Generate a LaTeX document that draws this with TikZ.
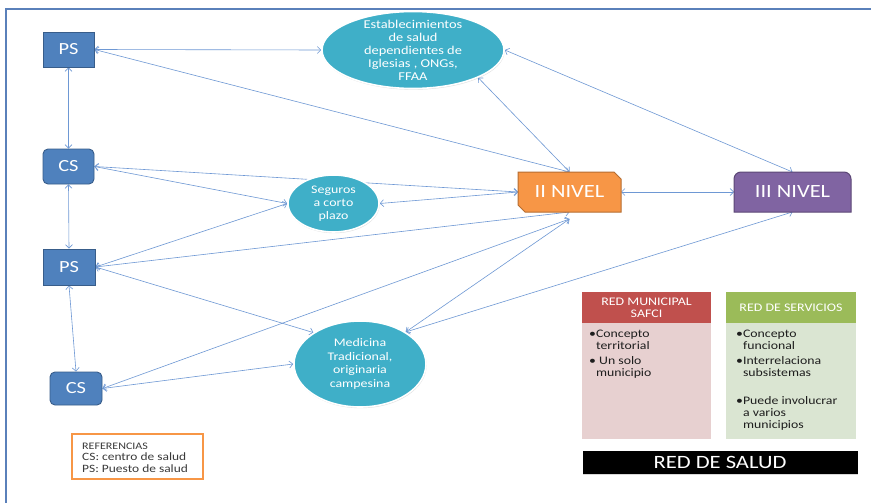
\documentclass[tikz,border=0pt]{standalone}
\usepackage{fontspec}
\setmainfont{Carlito}[FakeStretch=1.2]
\usetikzlibrary{arrows.meta,shapes.geometric,backgrounds,shadows}

\definecolor{boxblue}{HTML}{4F81BD}
\definecolor{boxblueline}{HTML}{385D8A}
\definecolor{ovalteal}{HTML}{3FAFC8}
\definecolor{lvltwo}{HTML}{F79646}
\definecolor{lvltwoline}{HTML}{B66D31}
\definecolor{lvlthree}{HTML}{8064A2}
\definecolor{lvlthreeline}{HTML}{5C4776}
\definecolor{safcihead}{HTML}{C0504D}
\definecolor{safcibody}{HTML}{E7D0D0}
\definecolor{servhead}{HTML}{9BBB59}
\definecolor{servbody}{HTML}{DAE5D2}
\definecolor{linkblue}{RGB}{110,152,212}
\definecolor{frameblue}{HTML}{5A80BA}
\definecolor{textdark}{HTML}{1E1E1E}
\definecolor{refgray}{HTML}{3A3A3A}

\begin{document}
\begin{tikzpicture}[x=1pt,y=-1pt,
  unit/.style={draw=boxblueline, line width=0.9pt, fill=boxblue, text=white,
    minimum width=51pt, minimum height=35pt, inner sep=0pt,
    font=\fontsize{17}{17}\selectfont},
  psbox/.style={unit},
  csbox/.style={unit, rounded corners=5pt},
  oval/.style={ellipse, draw=white, line width=1.6pt, fill=ovalteal, inner sep=0pt,
    drop shadow={opacity=0.25, shadow xshift=0.6pt, shadow yshift=-1.2pt}},
  ovaltext/.style={text=white, align=center, inner sep=0pt},
  lvlbox/.style={minimum width=103pt, minimum height=40pt, inner sep=0pt, outer sep=0pt,
    text=white, font=\fontsize{18.7}{18.7}\selectfont},
  link/.style={draw=linkblue, line width=0.6pt, <->,
    >={Straight Barb[length=3.5pt,width=7pt]}},
  headbox/.style={minimum width=129pt, minimum height=31pt, inner sep=0pt, text=white,
    align=center, font=\fontsize{11.6}{12}\selectfont},
  bodybox/.style={minimum width=129pt, minimum height=116pt, inner sep=0pt, anchor=north},
  bodytext/.style={anchor=north west, align=left, inner sep=0pt, text=textdark,
    font=\fontsize{11.5}{12.2}\selectfont},
]
\useasboundingbox (0,0) rectangle (871,503);

% first-level units
\node[psbox] (PS1) at (68.5,49.5) {PS};
\node[csbox] (CS1) at (68.5,166.5) {CS};
\node[psbox, minimum width=52pt, minimum height=36pt] (PS2) at (69,267) {PS};
\node[csbox, minimum width=52pt, minimum height=33pt] (CS2) at (76,388.5) {CS};

% other providers
\node[oval, minimum width=182pt, minimum height=77pt] (E) at (413,50) {};
\node[ovaltext, font=\fontsize{12}{13}\selectfont] (Etext) at (E)
  {Establecimientos\\de salud\\dependientes de\\Iglesias , ONGs,\\FFAA};
\node[oval, minimum width=91pt, minimum height=57pt] (S) at (333.5,203.5) {};
\node[ovaltext, font=\fontsize{11.6}{13}\selectfont] (Stext) at (S)
  {Seguros\\a corto\\plazo};
\node[oval, minimum width=132pt, minimum height=86pt] (M) at (360,364) {};
\node[ovaltext, font=\fontsize{11.6}{13.7}\selectfont] (Mtext) at (M)
  {Medicina\\Tradicional,\\originaria\\campesina};

% higher levels
\node[lvlbox] (II) at (569.5,192) {II NIVEL};
\node[lvlbox, minimum width=117pt] (III) at (792.5,192) {III NIVEL};
\coordinate (IIb) at ([yshift=-7pt]II.south);

% network tables
\node[headbox, fill=safcihead] (SafHead) at (646.5,307.5) {RED MUNICIPAL\\SAFCI};
\node[bodybox, fill=safcibody] (SafBody) at (SafHead.south) {};
\node[bodytext] (SafText) at (589,329.5)
  {•Concepto\\\phantom{•}territorial\\[3pt]• Un solo\\\phantom{•}municipio};
\node[headbox, minimum width=130pt, fill=servhead] (ServHead) at (791,307.5) {RED DE SERVICIOS};
\node[bodybox, minimum width=130pt, fill=servbody] (ServBody) at (ServHead.south) {};
\node[bodytext] (ServText) at (736,329.5)
  {•Concepto\\\phantom{•}funcional\\[2.5pt]•Interrelaciona\\\phantom{•}subsistemas\\[16pt]%
   •Puede involucrar\\\phantom{•}a varios\\\phantom{•}municipios};
\node[fill=black, minimum width=275pt, minimum height=23pt, inner sep=0pt, text=white,
  font=\fontsize{18.8}{18.8}\selectfont,
  drop shadow={opacity=0.3, shadow xshift=0.8pt, shadow yshift=-0.8pt}] (Salud)
  at (720,462.5) {RED DE SALUD};

% legend
\node[draw=lvltwo, line width=1.5pt, fill=white, minimum width=131pt, minimum height=45pt,
  inner sep=0pt] (RefBox) at (137.5,456.5) {};
\node[anchor=north west, align=left, inner sep=0pt, text=refgray,
  font=\fontsize{11.2}{11.6}\selectfont] (RefText) at (82,442.5)
  {{\fontsize{10}{11.6}\selectfont REFERENCIAS}\\CS: centro de salud\\PS: Puesto de salud};

\begin{scope}[on background layer]
  \fill[white] (0,0) rectangle (871,503);
  \draw[frameblue, line width=2pt] (5.5,503) -- (5.5,9.5) -- (871,9.5);

  % connections
  \draw[link] (PS1.east) -- (E.west);
  \draw[link] (PS1.south) -- (CS1.north);
  \draw[link] (CS1.south) -- (PS2.north);
  \draw[link] (PS2.south) -- (CS2.north);
  \draw[link] (PS1.east) -- (II.north);
  \draw[link] (E.-23) -- (II.north);
  \draw[link] (E.east) -- (III.north);
  \draw[link] (CS1.east) -- (II.west);
  \draw[link] (CS1.east) -- (S.west);
  \draw[link] (S.east) -- (II.west);
  \draw[link] (PS2.east) -- (S.west);
  \draw[link] (PS2.east) -- (II.south);
  \draw[link] (PS2.east) -- (M.146);
  \draw[link] (CS2.east) -- (IIb);
  \draw[link] (CS2.east) -- (M.west);
  \draw[link] (M.35) -- (IIb);
  \draw[link] (M.35) -- (III.south);
  \draw[link] (II.east) -- (III.west);

  % level shapes
  \filldraw[fill=lvltwo, draw=lvltwoline, line width=1pt]
    (II.north west) -- ([xshift=-7pt]II.north east) -- ([yshift=-7pt]II.north east)
    -- (II.south east) -- ([xshift=7pt]II.south west) -- ([yshift=7pt]II.south west) -- cycle;
  \filldraw[fill=lvlthree, draw=lvlthreeline, line width=1pt]
    (III.south west) -- ([yshift=-7pt]III.north west)
    arc[start angle=180, end angle=90, radius=7pt]
    -- ([xshift=-7pt]III.north east)
    arc[start angle=90, end angle=0, radius=7pt]
    -- (III.south east) -- cycle;
\end{scope}
\end{tikzpicture}
\end{document}
